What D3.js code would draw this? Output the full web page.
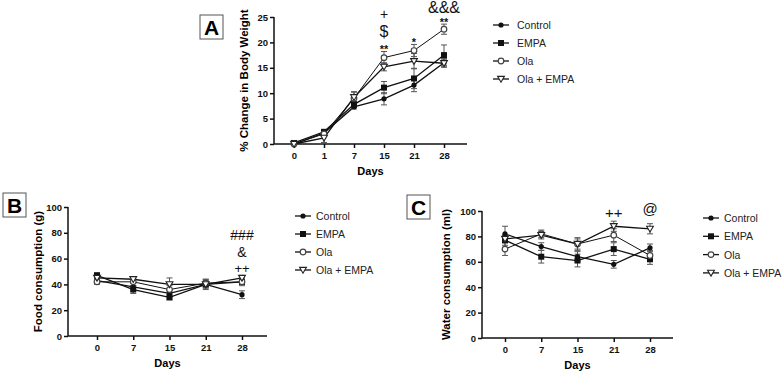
<!DOCTYPE html>
<html>
<head>
<meta charset="utf-8">
<script src="https://cdn.jsdelivr.net/npm/d3@7"></script>
<style>
  body { margin: 0; background: #fff; }
  svg { display: block; font-family: "Liberation Sans", Arial, sans-serif; }
</style>
</head>
<body>
<svg id="fig" width="782" height="373"></svg>
<script>
// ---- data ----
const seriesNames = ["Control", "EMPA", "Ola", "Ola + EMPA"]
const seriesNamesB = ["Control", " EMPA", "Ola", "Ola + EMPA"]

const daysA = ["0", "1", "7", "15", "21", "28"]
const weightControl = [0.0, 2.2, 7.3, 8.9, 11.6, 16.0]
const weightEmpa = [0.2, 2.4, 7.8, 11.1, 12.9, 17.5]
const weightOla = [0.0, 2.0, 9.0, 17.0, 18.4, 22.6]
const weightOlaEmpa = [0.0, 1.2, 9.2, 15.2, 16.3, 15.9]
const weightErrControl = [0.2, 0.5, 0.4, 1.2, 1.3, 0.8]
const weightErrEmpa = [0.2, 0.4, 0.6, 1.2, 2.0, 2.0]
const weightErrOla = [0.2, 0.5, 1.3, 1.2, 1.2, 1.0]
const weightErrOlaEmpa = [0.2, 0.9, 1.0, 0.8, 1.5, 0.8]

const daysBC = ["0", "7", "15", "21", "28"]
const foodControl = [43, 38, 33, 40, 32]
const foodEmpa = [47, 36, 30, 40, 42]
const foodOla = [42, 42, 36, 41, 42]
const foodOlaEmpa = [45, 44, 40, 40, 45]
const foodErrControl = [2, 3, 3, 2, 3]
const foodErrEmpa = [2, 3, 2, 3, 3]
const foodErrOla = [2, 3, 3, 3, 2]
const foodErrOlaEmpa = [2, 2, 5, 4, 2]

const waterControl = [82, 72, 64, 58, 71]
const waterEmpa = [77, 64, 61, 70, 62]
const waterOla = [70, 82, 74, 81, 65]
const waterOlaEmpa = [78, 81, 74, 88, 86]
const waterErrControl = [6, 3, 4, 3, 3]
const waterErrEmpa = [4, 5, 5, 5, 4]
const waterErrOla = [5, 3, 4, 5, 4]
const waterErrOlaEmpa = [3, 3, 5, 4, 4]

const yTicksA = [0, 5, 10, 15, 20, 25]
const yTicksBC = [0, 20, 40, 60, 80, 100]

// significance marks: [day, label, baseline offset from x axis, font size, bold]
const marksA = [["15", "+", -125, 14, false], ["15", "$", -107, 16, false], ["15", "**", -91, 11, true],
                ["21", "*", -98, 11, true], ["28", "&&&", -131, 16, false], ["28", "**", -118, 11, true]]
const marksB = [["28", "###", -96, 14, false], ["28", "&", -79, 14, false], ["28", "++", -63, 13, false]]
const marksC = [["21", "++", -120, 15, false], ["28", "@", -124, 15, false]]

const svg = d3.select("#fig")

function marker(g, idx, x, y) {
    if (idx == 0) {
        g.append("circle").attr("cx", x).attr("cy", y).attr("r", 2.6).attr("fill", "#111")
    } else if (idx == 1) {
        g.append("rect").attr("x", x - 3).attr("y", y - 3).attr("width", 6).attr("height", 6).attr("fill", "#111")
    } else if (idx == 2) {
        g.append("circle").attr("cx", x).attr("cy", y).attr("r", 2.8)
            .attr("fill", "#fff").attr("stroke", "#444").attr("stroke-width", 1.2)
    } else {
        g.append("path").attr("d", `M${x - 3.4},${y - 2.6}L${x + 3.4},${y - 2.6}L${x},${y + 3.2}Z`)
            .attr("fill", "#fff").attr("stroke", "#222").attr("stroke-width", 1.1)
    }
}

function drawPanel(cfg) {
    const g = svg.append("g")
    const x = d3.scalePoint().domain(cfg.days).range(cfg.xRange)
    const y = d3.scaleLinear().domain([0, cfg.yMax]).range(cfg.yRange)

    // axes
    const yAxis = g.append("g")
        .attr("transform", `translate(${cfg.axisX},0)`)
        .call(d3.axisLeft(y).tickValues(cfg.yTicks).tickSize(4).tickPadding(2))
    const xAxis = g.append("g")
        .attr("transform", `translate(0,${cfg.yRange[0]})`)
        .call(d3.axisBottom(x).tickSize(4).tickPadding(4))
    xAxis.select(".domain").attr("d", `M${cfg.axisX},0H${cfg.axisEnd}`)
    yAxis.select(".domain").attr("d", `M0,${cfg.yRange[0]}V${cfg.yRange[1]}`)
    for (const ax of [xAxis, yAxis]) {
        ax.selectAll(".domain, line").attr("stroke", "#111").attr("stroke-width", 1.5)
        ax.selectAll("text").attr("font-size", 9.5).attr("font-weight", "bold")
            .attr("fill", "#111").attr("font-family", "Liberation Sans, Arial, sans-serif")
    }

    g.append("text").attr("x", (cfg.axisX + cfg.axisEnd) / 2).attr("y", cfg.yRange[0] + 31)
        .attr("text-anchor", "middle").attr("font-size", 11).attr("font-weight", "bold").text("Days")
    g.append("text")
        .attr("transform", `translate(${cfg.titleX},${(cfg.yRange[0] + cfg.yRange[1]) / 2}) rotate(-90)`)
        .attr("text-anchor", "middle").attr("font-size", 11.5).attr("font-weight", "bold").text(cfg.yTitle)

    // series
    const line = d3.line().x((d, i) => x(cfg.days[i])).y(d => y(d))
    cfg.series.forEach((vals, si) => {
        g.append("path").datum(vals).attr("d", line)
            .attr("fill", "none").attr("stroke", "#111").attr("stroke-width", si == 2 ? 1.0 : 1.3)
    })
    cfg.series.forEach((vals, si) => {
        const eg = g.append("g").attr("stroke", "#555").attr("stroke-width", 1)
        vals.forEach((v, i) => {
            const cx = x(cfg.days[i])
            const e = cfg.errors[si][i]
            eg.append("line").attr("x1", cx).attr("x2", cx).attr("y1", y(v - e)).attr("y2", y(v + e))
            for (const w of [v - e, v + e]) {
                eg.append("line").attr("x1", cx - 3).attr("x2", cx + 3).attr("y1", y(w)).attr("y2", y(w))
            }
        })
    })
    cfg.series.forEach((vals, si) => {
        vals.forEach((v, i) => marker(g, si, x(cfg.days[i]), y(v)))
    })

    // significance marks
    cfg.marks.forEach(m => {
        g.append("text").attr("x", x(m[0])).attr("y", cfg.yRange[0] + m[2])
            .attr("text-anchor", "middle")
            .attr("font-size", m[3]).attr("font-weight", m[4] ? "bold" : "normal")
            .attr("fill", "#111").text(m[1])
    })

    // panel letter box
    const b = cfg.box
    g.append("rect").attr("x", b[0]).attr("y", b[1]).attr("width", 23).attr("height", 24)
        .attr("fill", "#fff").attr("stroke", "#555").attr("stroke-width", 1)
    g.append("text").attr("x", b[0] + 11.5).attr("y", b[1] + 19.5).attr("text-anchor", "middle")
        .attr("font-size", 21).attr("font-weight", "bold").text(cfg.letter)

    // legend
    cfg.names.forEach((name, i) => {
        const ly = cfg.legend[1] + i * cfg.legendStep
        g.append("line").attr("x1", cfg.legend[0]).attr("x2", cfg.legend[0] + 16)
            .attr("y1", ly).attr("y2", ly).attr("stroke", "#111").attr("stroke-width", 1.3)
        marker(g, i, cfg.legend[0] + 8, ly)
        g.append("text").attr("x", cfg.legend[0] + cfg.legend[2]).attr("y", ly + 4)
            .attr("font-size", 10.5).attr("fill", "#222").text(name)
    })
}

drawPanel({
    letter: "A", box: [200, 15], days: daysA, yMax: 25, yTicks: yTicksA,
    xRange: [294, 444], yRange: [144, 17], axisX: 274, axisEnd: 467, titleX: 248,
    yTitle: "% Change in Body Weight",
    series: [weightControl, weightEmpa, weightOla, weightOlaEmpa],
    errors: [weightErrControl, weightErrEmpa, weightErrOla, weightErrOlaEmpa],
    marks: marksA, names: seriesNames, legend: [493, 25, 24], legendStep: 18
})
drawPanel({
    letter: "B", box: [3, 193], days: daysBC, yMax: 100, yTicks: yTicksBC,
    xRange: [97, 242], yRange: [336, 207], axisX: 68, axisEnd: 267, titleX: 42,
    yTitle: "Food consumption (g)",
    series: [foodControl, foodEmpa, foodOla, foodOlaEmpa],
    errors: [foodErrControl, foodErrEmpa, foodErrOla, foodErrOlaEmpa],
    marks: marksB, names: seriesNamesB, legend: [295, 216, 21], legendStep: 18
})
drawPanel({
    letter: "C", box: [407, 195], days: daysBC, yMax: 100, yTicks: yTicksBC,
    xRange: [505, 650], yRange: [338, 211], axisX: 482, axisEnd: 673, titleX: 450,
    yTitle: "Water consumption (ml)",
    series: [waterControl, waterEmpa, waterOla, waterOlaEmpa],
    errors: [waterErrControl, waterErrEmpa, waterErrOla, waterErrOlaEmpa],
    marks: marksC, names: seriesNames, legend: [703, 218, 21], legendStep: 18.3
})
</script>
</body>
</html>
